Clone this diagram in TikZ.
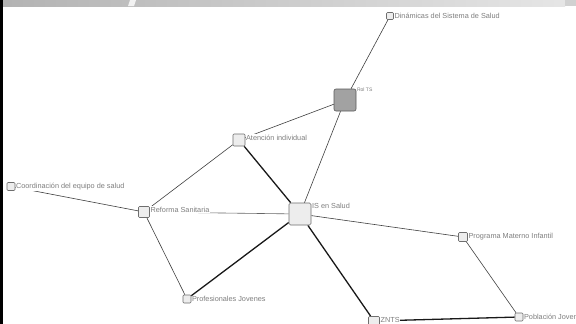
\documentclass[tikz,border=0pt]{standalone}
\usepackage{fontspec}
\setmainfont{Liberation Sans}
\usetikzlibrary{backgrounds}
\definecolor{txtgray}{HTML}{7E7E7E}
\definecolor{boxfill}{HTML}{EDEDED}
\definecolor{boxdraw}{HTML}{6E6E6E}
\definecolor{rolfill}{HTML}{A2A2A2}
\tikzset{
  vbox/.style={draw=boxdraw, fill=boxfill, rounded corners=1pt, line width=0.6pt, inner sep=0pt},
  lbl/.style={anchor=west, text=txtgray, fill=white, inner sep=0.6pt, font=\fontsize{7.3}{8}\selectfont},
  thin/.style={draw=black!75, line width=0.6pt},
  thick/.style={draw=black!90, line width=1.3pt},
}
\begin{document}
\begin{tikzpicture}[x=1pt,y=-1pt]
\useasboundingbox (0,0) rectangle (576,324);

% nodes
\node[vbox, minimum size=7pt] (din) at (390,16) {};
\node[vbox, minimum size=22pt, fill=rolfill, draw=black!65, rounded corners=2pt] (rol) at (345,100) {};
\node[vbox, minimum size=12pt] (ate) at (239,140) {};
\node[vbox, minimum size=22pt, rounded corners=1.5pt] (is) at (300,214) {};
\node[vbox, minimum size=8pt] (coo) at (11,186.5) {};
\node[vbox, minimum size=11pt] (ref) at (144,212) {};
\node[vbox, minimum size=9pt] (pro) at (463,237) {};
\node[vbox, minimum size=8pt] (pob) at (519,317) {};
\node[vbox, minimum width=11pt, minimum height=9pt] (znt) at (374,321) {};
\node[vbox, minimum size=8pt] (pjv) at (187,299) {};

% background, frame and edges
\begin{pgfonlayer}{background}
\fill[white] (0,0) rectangle (576,324);
\shade[left color=black!30, right color=black!10] (0,0) rectangle (565,6);
\fill[black!18] (565,0) rectangle (576,6);
\fill[white, opacity=0.8] (130,0) -- (136,0) -- (134,6) -- (128,6) -- cycle;
\fill[black] (0,0) rectangle (3,324);
\draw[thin] (din) -- (rol);
\draw[thin] (rol) -- (ate);
\draw[thin] (rol) -- (is);
\draw[thin] (ate) -- (ref);
\draw[thick] (ate) -- (is);
\draw[thin] (coo) -- (ref);
\draw[thin, draw=black!60] (ref) -- (is);
\draw[thin] (ref) -- (pjv);
\draw[thick] (is) -- (pjv);
\draw[thick] (is) -- (znt);
\draw[thin] (is) -- (pro);
\draw[thin] (pro) -- (pob);
\draw[thick] (znt) -- (pob);
\end{pgfonlayer}

% labels
\node[lbl] (ldin) at (din.east) {Dinámicas del Sistema de Salud};
\node[lbl, font=\fontsize{5}{6}\selectfont, anchor=south west] (lrol) at ([yshift=-4pt]rol.north east) {Rol TS};
\node[lbl] (late) at ([yshift=2.5pt]ate.east) {Atención individual};
\node[lbl] (lis) at ([yshift=8.5pt]is.east) {IS en Salud};
\node[lbl] (lcoo) at (coo.east) {Coordinación del equipo de salud};
\node[lbl] (lref) at ([yshift=2.5pt]ref.east) {Reforma Sanitaria};
\node[lbl] (lpro) at (pro.east) {Programa Materno Infantil};
\node[lbl] (lpob) at (pob.east) {Población Joven};
\node[lbl] (lznt) at ([yshift=1pt]znt.east) {ZNTS};
\node[lbl] (lpjv) at (pjv.east) {Profesionales Jovenes};
\end{tikzpicture}
\end{document}
